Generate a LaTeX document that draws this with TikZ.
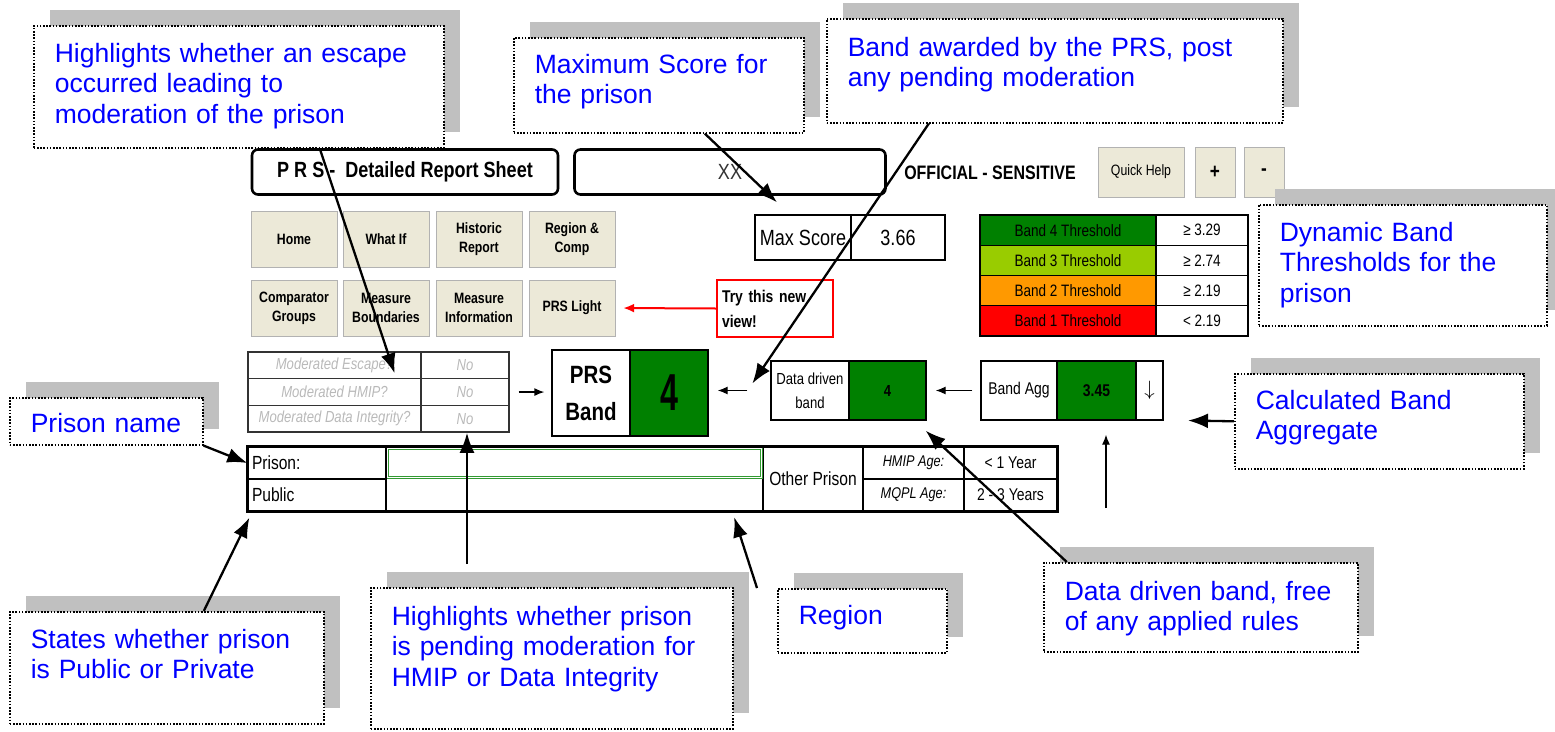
\documentclass[tikz,border=0pt]{standalone}
\usepackage{fontspec}
\setmainfont{Liberation Sans}
\newfontfamily\notefont{Liberation Sans}
\newfontfamily\uifont[FakeStretch=0.82]{Liberation Sans}
\newfontfamily\tallfont[FakeStretch=0.62]{Liberation Sans}
\usepackage{tikz}
\usetikzlibrary{arrows.meta, calc, shadows}

\definecolor{notetext}{RGB}{0,0,255}
\definecolor{shadegray}{RGB}{192,192,192}
\definecolor{btnface}{RGB}{236,233,216}
\definecolor{bandgreen}{RGB}{0,128,0}
\definecolor{bandlime}{RGB}{153,204,0}
\definecolor{bandorange}{RGB}{255,153,0}
\definecolor{bandred}{RGB}{255,0,0}
\definecolor{modgray}{RGB}{185,185,185}

\begin{document}
\begin{tikzpicture}[x=1pt, y=-1pt,
    note/.style={draw, dash pattern=on 1.6pt off 1.6pt, line width=1.6pt, fill=white, anchor=north west,
        general shadow={fill=shadegray, shadow xshift=16pt, shadow yshift=16pt},
        align=left, inner xsep=21pt, inner ysep=0pt, text=notetext,
        font=\notefont\fontsize{26.5}{30.5}\selectfont},
    pointer/.style={line width=2.3pt, -{Latex[length=20pt,width=15pt]}},
    thin pointer/.style={line width=1.3pt, -{Latex[length=10pt,width=8pt]}},
    button/.style={draw=black!30, fill=btnface, minimum width=86pt, minimum height=56pt,
        inner sep=0pt, align=center, font=\uifont\bfseries\fontsize{15}{19}\selectfont},
    banner/.style={draw, line width=2.6pt, rounded corners=6pt, minimum height=45pt},
    cell/.style={draw, line width=1.3pt, inner sep=0pt, font=\uifont\fontsize{16.5}{19}\selectfont},
    modcell/.style={draw=black!80, line width=1.3pt, inner sep=0pt, minimum height=26.7pt,
        text=modgray, font=\uifont\itshape\fontsize{16}{18}\selectfont}
]
\useasboundingbox (0,0) rectangle (1555,731);

% header bar
\node[banner, minimum width=306pt, font=\uifont\bfseries\fontsize{22}{24}\selectfont] (title) at (405,172) {P R S -\ \ Detailed Report Sheet};
\node[banner, minimum width=311pt, text=black!80, font=\uifont\fontsize{22}{24}\selectfont] (prisonsel) at (730,172) {XX};
\node[font=\uifont\bfseries\fontsize{19.5}{22}\selectfont] (marking) at (990,173) {OFFICIAL - SENSITIVE};
\node[button, minimum height=50pt, font=\uifont\fontsize{15}{17}\selectfont] (quickhelp) at (1141,172) {Quick Help};
\node[button, minimum width=40pt, minimum height=50pt, font=\uifont\bfseries\fontsize{21}{23}\selectfont] (zoomin) at (1215,172) {+};
\node[button, minimum width=40pt, minimum height=50pt, font=\uifont\bfseries\fontsize{21}{23}\selectfont] (zoomout) at (1264,172) {-};

% navigation buttons
\foreach \bname/\btext/\bx/\by in {home/Home/294/239, whatif/What If/386/239,
    historic/Historic\\Report/479/239, regcomp/Region \&\\Comp/572/239,
    compgroups/Comparator\\Groups/294/308, measbound/Measure\\Boundaries/386/308,
    measinfo/Measure\\Information/479/308, prslight/PRS Light/572/308}
  \node[button] (\bname) at (\bx,\by) {\btext};

% max score
\node[cell, minimum width=96pt, minimum height=45pt, font=\uifont\fontsize{22}{24}\selectfont] (maxlbl) at (803,237.5) {Max Score};
\node[cell, minimum width=94pt, minimum height=45pt, font=\uifont\fontsize{22}{24}\selectfont] (maxval) at (898,237.5) {3.66};

\node[draw=red, line width=2pt, minimum width=116pt, minimum height=57pt, text width=106pt, align=left, inner sep=0pt,
    font=\uifont\bfseries\fontsize{17}{25}\selectfont] (trynew) at (775,308.5) {Try this new\\view!};
\draw[red, line width=2pt, -{Latex[length=11pt,width=9pt]}, shorten >=8pt] (trynew.west) -- (prslight.east);

% thresholds
\foreach \c/\t/\v [count=\i] in {bandgreen/Band 4 Threshold/{≥ 3.29}, bandlime/Band 3 Threshold/{≥ 2.74},
    bandorange/Band 2 Threshold/{≥ 2.19}, bandred/Band 1 Threshold/{< 2.19}} {
  \node[cell, fill=\c, minimum width=176pt, minimum height=30.25pt] (band\i) at (1068,{215+30.25*(\i-0.5)}) {\t};
  \node[cell, minimum width=92pt, minimum height=30.25pt] (cut\i) at (1202,{215+30.25*(\i-0.5)}) {\v};
}

% moderation flags
\foreach \t [count=\i] in {Moderated Escape?, Moderated HMIP?, Moderated Data Integrity?} {
  \node[modcell, minimum width=173pt] (modq\i) at (334.5,{352+26.7*(\i-0.5)}) {\t};
  \node[modcell, minimum width=88pt] (moda\i) at (465,{352+26.7*(\i-0.5)}) {No};
}

% bands
\node[cell, minimum width=78pt, minimum height=86pt, align=center, font=\uifont\bfseries\fontsize{25}{37}\selectfont] (prsl) at (591,393) {PRS\\Band};
\node[cell, fill=bandgreen, minimum width=78pt, minimum height=86pt, font=\tallfont\bfseries\fontsize{52}{52}\selectfont] (prsv) at (669,393) {4};
\node[cell, minimum width=78pt, minimum height=59pt, align=center, font=\uifont\fontsize{16}{24}\selectfont] (ddl) at (810,390.5) {Data driven\\band};
\node[cell, fill=bandgreen, minimum width=77pt, minimum height=59pt, font=\uifont\bfseries\fontsize{16}{18}\selectfont] (ddv) at (887.5,390.5) {4};
\node[cell, minimum width=76pt, minimum height=59pt, font=\uifont\fontsize{17}{20}\selectfont] (aggl) at (1019,390.5) {Band Agg};
\node[cell, fill=bandgreen, minimum width=79pt, minimum height=59pt, font=\uifont\bfseries\fontsize{17}{20}\selectfont] (aggv) at (1096.5,390.5) {3.45};
\node[cell, minimum width=27pt, minimum height=59pt, font=\fontsize{22}{24}\selectfont] (aggd) at (1149.5,390.5) {$\downarrow$};

\draw[thin pointer, shorten <=9pt, shorten >=7pt] (moda2.east) -- (moda2.east -| prsl.west);
\draw[thin pointer, shorten <=23pt, shorten >=9pt] (ddl.west) -- (ddl.west -| prsv.east);
\draw[thin pointer, shorten <=8pt, shorten >=9pt] (aggl.west) -- (aggl.west -| ddv.east);
\coordinate (aggfoot) at (1106,508);
\draw[thin pointer, shorten >=14pt] (aggfoot) -- (aggfoot |- aggv.south);

% prison details
\node[cell, minimum width=138pt, minimum height=32pt, text width=130pt, align=left, font=\uifont\fontsize{19}{21}\selectfont] (plbl) at (317,463) {Prison:};
\node[cell, minimum width=138pt, minimum height=32pt, text width=130pt, align=left, font=\uifont\fontsize{19}{21}\selectfont] (publ) at (317,495) {Public};
\node[minimum width=377pt, minimum height=32pt, inner sep=0pt] (pname) at (574.5,463) {};
\node[minimum width=377pt, minimum height=32pt, inner sep=0pt] (preg) at (574.5,495) {};
\node[cell, minimum width=100pt, minimum height=64pt, font=\uifont\fontsize{19}{21}\selectfont] (other) at (813,479) {Other Prison};
\node[cell, minimum width=101pt, minimum height=32pt, font=\uifont\itshape\fontsize{15.5}{18}\selectfont] (hmipl) at (913.5,463) {HMIP Age:};
\node[cell, minimum width=93pt, minimum height=32pt, font=\uifont\fontsize{17}{19}\selectfont] (hmipv) at (1010.5,463) {< 1 Year};
\node[cell, minimum width=101pt, minimum height=32pt, font=\uifont\itshape\fontsize{15.5}{18}\selectfont] (mqpll) at (913.5,495) {MQPL Age:};
\node[cell, minimum width=93pt, minimum height=32pt, font=\uifont\fontsize{17}{19}\selectfont] (mqplv) at (1010.5,495) {2 - 3 Years};
\draw[line width=2.4pt] (plbl.north west) rectangle (mqplv.south east);
\draw[bandgreen!80, double=white, double distance=1.2pt, line width=0.7pt] ($(pname.north west)+(2,2)$) rectangle ($(pname.south east)+(-2,-2)$);

% callouts
\node[note, text width=368pt, text height=36.5pt, text depth=85.5pt] (escnote) at (33,25) {Highlights whether an escape\\occurred leading to\\moderation of the prison};
\node[note, text width=248pt, text height=35.5pt, text depth=59.5pt] (maxnote) at (513,37) {Maximum Score for\\the prison};
\node[note, text width=414pt, text height=37.5pt, text depth=66.5pt] (bandnote) at (826,18) {Band awarded by the PRS, post\\any pending moderation};
\node[note, text width=246pt, text height=36.5pt, text depth=84.5pt] (threshnote) at (1258,204) {Dynamic Band\\Thresholds for the\\prison};
\node[note, text width=247pt, text height=35.5pt, text depth=59.5pt] (aggnote) at (1234,373) {Calculated Band\\Aggregate};
\node[note, text width=151pt, text height=35pt, text depth=12pt] (namenote) at (9,397) {Prison name};
\node[note, text width=272pt, text height=36.5pt, text depth=75.5pt] (pubnote) at (9,611) {States whether prison\\is Public or Private};
\node[note, text width=320pt, text height=37.5pt, text depth=103.5pt] (pendnote) at (370,587) {Highlights whether prison\\is pending moderation for\\HMIP or Data Integrity};
\node[note, text width=127pt, text height=35.5pt, text depth=28.5pt] (regnote) at (777,588) {Region};
\node[note, text width=272pt, text height=37.5pt, text depth=51.5pt] (ddnote) at (1043,562) {Data driven band, free\\of any applied rules};

% pointers
\draw[pointer] ($(escnote.south)+(81,0)$) -- ($(modq1.south east)+(-27,-6)$);
\draw[pointer] ($(maxnote.south)+(46,0)$) -- ($(maxlbl.north)+(-26,-12)$);
\draw[pointer] ($(bandnote.south)+(-126,0)$) -- ($(ddl.west)+(-18,-7)$);
\coordinate (aggtip) at (1188,420.5);
\draw[pointer] (aggnote.west) -- (aggtip);
\draw[pointer] (namenote.south east) -- (plbl.west);
\draw[pointer] ($(pubnote.north)+(37,0)$) -- ($(publ.south west)+(2,6)$);
\coordinate (pendfoot) at (467,564);
\draw[pointer] (pendfoot) -- (pendfoot |- moda3.south);
\coordinate (regfoot) at (757,588);
\draw[pointer] (regfoot) -- ($(preg.south east)+(-29,6)$);
\draw[pointer] ($(ddnote.north)+(-134,0)$) -- ($(ddv.south east)+(-1,10)$);
\end{tikzpicture}
\end{document}
